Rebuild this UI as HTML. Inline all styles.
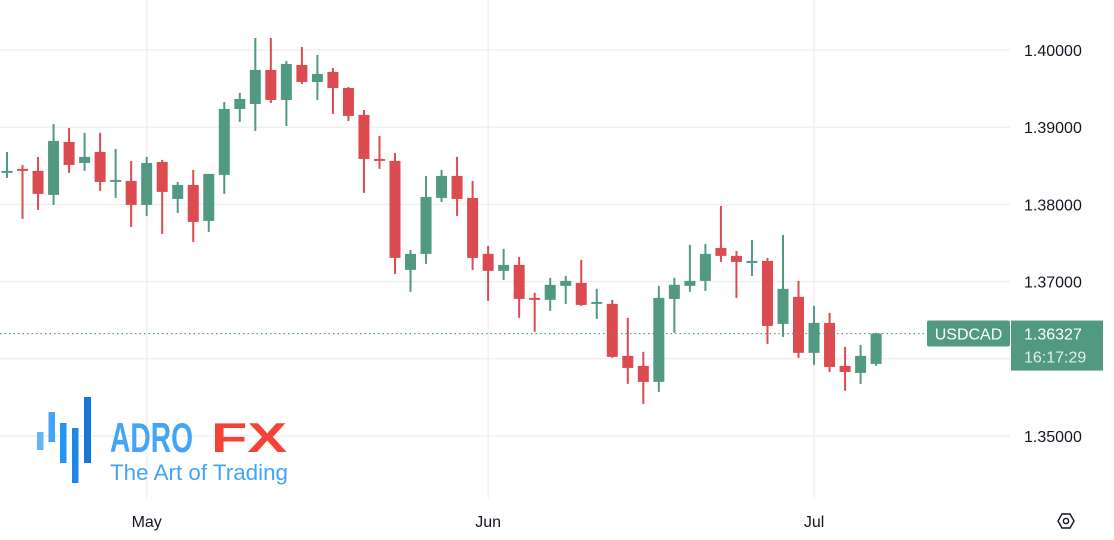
<!DOCTYPE html>
<html><head><meta charset="utf-8">
<style>
html,body{margin:0;padding:0;background:#fff;width:1114px;height:540px;overflow:hidden;font-family:"Liberation Sans",sans-serif;}
svg{display:block}
</style></head>
<body>
<svg id="chart" width="1114" height="540" viewBox="0 0 1114 540" xmlns="http://www.w3.org/2000/svg">
  <g id="grid"></g>
  <g id="logo">
    <rect x="37" y="432" width="6.5" height="18" fill="#64b5f6"/>
    <rect x="48.5" y="412" width="6.5" height="30" fill="#42a5f5"/>
    <rect x="60" y="423" width="6.5" height="40" fill="#2196f3"/>
    <rect x="72" y="428" width="6.5" height="55" fill="#1e88e5"/>
    <rect x="84" y="397" width="7" height="66" fill="#1976d2"/>
    <text x="110" y="452" font-size="42" font-weight="bold" fill="#42a5f5" textLength="83" lengthAdjust="spacingAndGlyphs">ADRO</text>
    <text x="211" y="452" font-size="42" font-weight="bold" fill="#f44336" textLength="76" lengthAdjust="spacingAndGlyphs">FX</text>
    <text x="110" y="480" font-size="22" fill="#42a5f5" textLength="178" lengthAdjust="spacingAndGlyphs">The Art of Trading</text>
  </g>
  <g id="candles"></g>
  <g id="axes"></g>
</svg>
<script>
const opens  = [1.38408,1.38460,1.38434,1.38123,1.38809,1.38537,1.38680,1.38291,1.38304,1.37993,1.38550,1.38071,1.38252,1.37786,1.38382,1.39236,1.39301,1.39742,1.39353,1.39806,1.39586,1.39716,1.39508,1.39159,1.38589,1.38563,1.37152,1.37359,1.38084,1.38369,1.38084,1.37359,1.37139,1.37216,1.36789,1.36763,1.36945,1.36983,1.36711,1.36711,1.36038,1.35908,1.35701,1.36776,1.36945,1.37009,1.37436,1.37333,1.37255,1.37268,1.36452,1.36802,1.36077,1.36465,1.35908,1.35817,1.35934];
const highs  = [1.38680,1.38511,1.38615,1.39042,1.38990,1.38926,1.38926,1.38718,1.38563,1.38615,1.38576,1.38291,1.38447,1.38395,1.39327,1.39444,1.40156,1.40156,1.39858,1.40039,1.39936,1.39767,1.39521,1.39223,1.38887,1.38667,1.37411,1.38369,1.38447,1.38615,1.38304,1.37462,1.37424,1.37320,1.36854,1.37048,1.37074,1.37281,1.36906,1.36763,1.36530,1.36090,1.36945,1.37048,1.37475,1.37488,1.37980,1.37398,1.37540,1.37307,1.37605,1.37009,1.36685,1.36595,1.36155,1.36180,1.36336];
const lows   = [1.38343,1.37812,1.37929,1.37993,1.38408,1.38434,1.38175,1.38084,1.37708,1.37851,1.37618,1.37890,1.37514,1.37644,1.38136,1.39068,1.38952,1.39314,1.39016,1.39560,1.39353,1.39172,1.39081,1.38149,1.38460,1.37100,1.36867,1.37229,1.38032,1.37851,1.37152,1.36750,1.37022,1.36530,1.36349,1.36621,1.36711,1.36685,1.36517,1.36012,1.35675,1.35416,1.35572,1.36336,1.36867,1.36880,1.37255,1.36789,1.37074,1.36193,1.36284,1.36012,1.35921,1.35830,1.35585,1.35675,1.35908];
const closes = [1.38434,1.38434,1.38136,1.38822,1.38511,1.38615,1.38291,1.38317,1.37993,1.38537,1.38162,1.38252,1.37773,1.38395,1.39236,1.39366,1.39742,1.39353,1.39819,1.39586,1.39690,1.39508,1.39146,1.38589,1.38563,1.37307,1.37359,1.38097,1.38369,1.38071,1.37307,1.37139,1.37216,1.36776,1.36763,1.36958,1.37009,1.36698,1.36737,1.36025,1.35882,1.35701,1.36789,1.36958,1.37009,1.37359,1.37333,1.37255,1.37268,1.36426,1.36906,1.36077,1.36465,1.35895,1.35830,1.36038,1.36327];
const priceTicks = [1.40,1.39,1.38,1.37,1.36,1.35];
const priceTickLabels = ["1.40000","1.39000","1.38000","1.37000",null,"1.35000"];
const monthIdx = [9,31,52];
const monthLabels = ["May","Jun","Jul"];
const lastPrice = 1.36327;
const lastTime = "16:17:29";
const symbol = "USDCAD";

const NS="http://www.w3.org/2000/svg";
const y = p => 50 + (1.40 - p) * 7720;
const x = i => 7 + i * 15.52;
const GREEN="#519a81", RED="#dc4b50";
function mk(tag, attrs, parent){const e=document.createElementNS(NS,tag);for(const k in attrs)e.setAttribute(k,attrs[k]);parent.appendChild(e);return e;}
const grid=document.getElementById('grid'), cg=document.getElementById('candles'), ax=document.getElementById('axes');

priceTicks.forEach((p,i)=>{
  const l=mk('line',{x1:0,x2:1010,y1:y(p),y2:y(p),stroke:'#f0f0f2','stroke-width':1.5},grid);
  
  
  if(priceTickLabels[i]){
    const t=mk('text',{x:1024,y:y(p)+6,'font-size':16,fill:'#131722'},ax);
    t.textContent=priceTickLabels[i];
    
    
  }
});
monthIdx.forEach((m,i)=>{
  const l=mk('line',{x1:x(m),x2:x(m),y1:0,y2:498,stroke:'#f0f0f2','stroke-width':1.5},grid);
  
  
  const t=mk('text',{x:x(m),y:527,'font-size':16,fill:'#131722','text-anchor':'middle'},ax);
  t.textContent=monthLabels[i];
  
  
});

opens.forEach((o,i)=>{
  const c=closes[i], up=c>=o, col=up?GREEN:RED, cx=x(i);
  const g=mk('g',{},cg);
  
  
  mk('line',{x1:cx,x2:cx,y1:y(highs[i]),y2:y(lows[i]),stroke:col,'stroke-width':2},g);
  const top=y(Math.max(o,c)), h=Math.max(2,Math.abs(y(o)-y(c)));
  mk('rect',{x:cx-5.5,y:top,width:11,height:h,fill:col},g);
});

// last price line
const ly=y(lastPrice);
const pl=mk('line',{x1:0,x2:927,y1:ly,y2:ly,stroke:GREEN,'stroke-width':1.2,'stroke-dasharray':'1.5 3'},ax);


const sb=mk('rect',{x:927,y:ly-13,width:83,height:26,rx:2,fill:GREEN},ax);


const st=mk('text',{x:968.5,y:ly+6,'font-size':16,fill:'#fff','text-anchor':'middle'},ax);
st.textContent=symbol;


const pb=mk('rect',{x:1011,y:ly-13,width:92,height:50,fill:GREEN},ax);


const pt=mk('text',{x:1024,y:ly+6,'font-size':16,fill:'#fff'},ax);
pt.textContent=lastPrice.toFixed(5);


const tt=mk('text',{x:1024,y:ly+29,'font-size':16,fill:'#e0efe9'},ax);
tt.textContent=lastTime;



// settings icon
const gear=mk('g',{},ax);


mk('polygon',{points:'1058,521 1062,514 1070,514 1074,521 1070,528 1062,528',fill:'none',stroke:'#131722','stroke-width':1.4},gear);
mk('circle',{cx:1066,cy:521,r:2.6,fill:'none',stroke:'#131722','stroke-width':1.4},gear);
</script>
</body></html>
